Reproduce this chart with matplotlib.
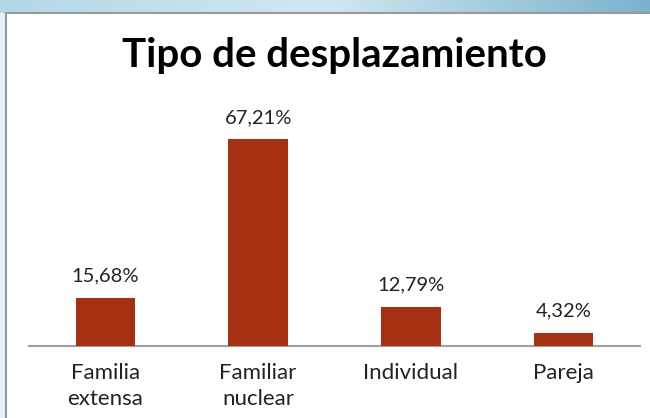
import matplotlib
matplotlib.use("Agg")
import matplotlib.pyplot as plt
import numpy as np
from matplotlib.lines import Line2D

categories = ["Familia\nextensa", "Familiar\nnuclear", "Individual", "Pareja"]
values = [15.68, 67.21, 12.79, 4.32]
labels = ["15,68%", "67,21%", "12,79%", "4,32%"]

W, H = 650, 418
fig = plt.figure(figsize=(6.5, 4.18), dpi=100)
fig.patch.set_facecolor("white")

# top blue gradient band
bg = fig.add_axes([0, 1 - 13 / H, 1, 13 / H])
grad = np.linspace(0, 1, 256)
c1 = np.array([0.70, 0.85, 0.90])
c2 = np.array([0.82, 0.91, 0.94])
c3 = np.array([0.48, 0.70, 0.80])
cols = np.where(grad[:, None] < 0.5,
                c1 + (c2 - c1) * (grad[:, None] / 0.5),
                c2 + (c3 - c2) * ((grad[:, None] - 0.5) / 0.5))
bg.imshow(cols[None, :, :], aspect="auto", extent=[0, 1, 0, 1])
bg.set_axis_off()
# left strip
bgl = fig.add_axes([0, 0, 5 / W, 1 - 13 / H])
bgl.set_facecolor("#e8f2f6")
bgl.set_xticks([]); bgl.set_yticks([])
for s in bgl.spines.values():
    s.set_visible(False)

# frame lines
fig.add_artist(Line2D([5.5 / W, 5.5 / W], [0, 1 - 12.5 / H], transform=fig.transFigure,
                      color="#9a9a9a", lw=1.5))
fig.add_artist(Line2D([5.5 / W, 1], [1 - 12.5 / H, 1 - 12.5 / H], transform=fig.transFigure,
                      color="#9a9a9a", lw=1.5))

FONT = "Lato"
ax = fig.add_axes([29 / W, 1 - 346 / H, (640 - 29) / W, (346 - 100) / H])
x = np.arange(len(categories))
ax.bar(x, values, width=0.39, color="#a63012", zorder=3)
ax.set_xlim(-0.5, len(categories) - 0.5)
ax.set_ylim(0, 246 / 3.08)
for xi, v, lab in zip(x, values, labels):
    ax.text(xi, v + 4.2, lab, ha="center", va="bottom", fontsize=14.5,
            family=FONT, color="#222222")
ax.set_xticks(x)
ax.set_xticklabels(categories, fontsize=16, family=FONT, color="#222222",
                   linespacing=1.4, va="top")
ax.tick_params(axis="x", length=0, pad=12)
ax.set_yticks([])
for s in ["top", "right", "left"]:
    ax.spines[s].set_visible(False)
ax.spines["bottom"].set_color("#a0a0a0")
ax.spines["bottom"].set_linewidth(1.5)
ax.set_facecolor("none")

fig.text(334 / W, 1 - 55 / H, "Tipo de desplazamiento", ha="center", va="center",
         fontsize=29, fontweight="bold", family=FONT, color="black")

fig.savefig("out.png", dpi=100)
